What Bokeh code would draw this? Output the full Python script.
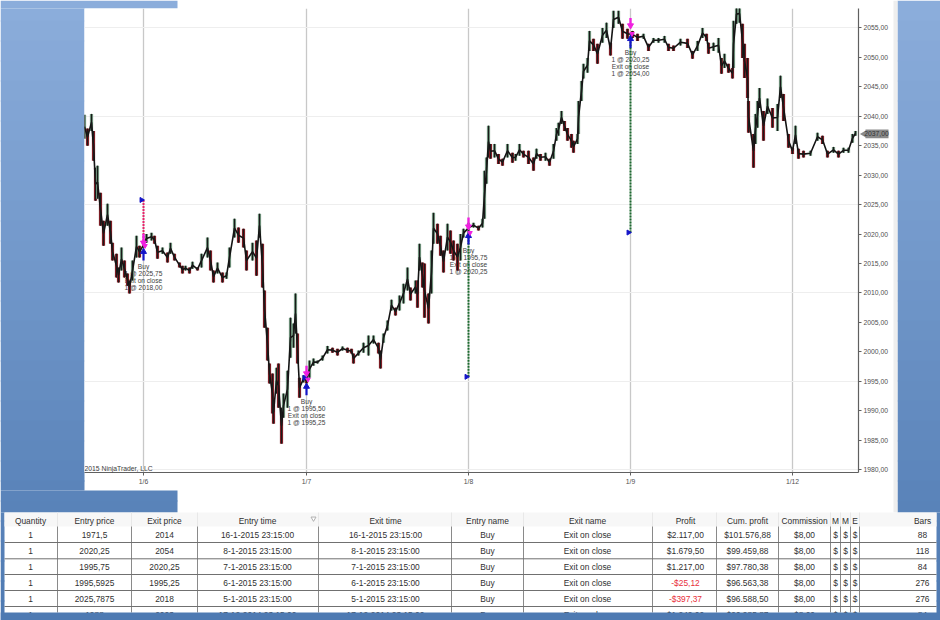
from bokeh.plotting import figure
from bokeh.models import Range1d, FixedTicker, Label, ColumnDataSource
from bokeh.core.properties import value
from bokeh.embed import file_html
from bokeh.resources import INLINE
import math

# ---------- chart data ----------
bar_x = [84,87,91,93,95,97,100,103,107,110,112,116,118,121,124,127,129,132,136,139,143,146,151,154,157,162,167,170,174,179,182,185,189,192,197,201,207,210,213,217,222,226,229,234,238,243,246,252,256,259,262,264,267,269,272,273,276,278,281,283,287,290,293,295,297,299,303,306,309,313,317,322,327,332,337,342,347,351,353,358,363,368,373,378,380,383,387,391,395,399,403,407,410,415,417,419,422,424,428,431,433,437,440,443,447,450,453,457,460,463,468,473,478,482,484,486,488,490,494,498,502,507,512,515,519,523,528,533,536,540,545,549,553,556,558,561,564,567,571,573,577,578,581,583,587,589,593,597,602,606,610,613,618,622,627,632,637,643,648,653,658,664,668,673,680,687,692,697,702,706,708,713,718,721,724,728,732,733,736,739,742,744,747,748,753,755,757,759,763,767,772,777,780,783,788,792,795,798,803,810,817,822,827,833,838,843,848,852,855]
bar_slot = [v - 84 for v in bar_x]
bar_high = [2040.25,2037.9,2040.4,2037.5,2031.25,2031.6,2027,2022.25,2025.15,2022.25,2018.5,2016.65,2014.3,2017.7,2015.5,2013.3,2012.1,2015.5,2019.7,2018,2018.5,2020,2020.2,2019.7,2018,2017.7,2016.85,2018.5,2016.65,2015.15,2014.6,2014.6,2014.3,2015.3,2014.3,2016.65,2019.4,2017.2,2013.8,2015.15,2013.45,2013.45,2017.7,2022.6,2021.1,2020.9,2017.2,2018.5,2018.9,2023.45,2018.35,2010.4,2004.1,1998,1996.3,1991.7,1997.3,1998,1990.5,1992.9,1996.8,2005.8,2004.8,2009.9,2003.1,1995.6,1996,1995.6,1998.5,1998.85,1998.5,1999.35,2001,2000.7,2000.5,2000.9,2000.7,2000.5,1999.7,2000.2,2001.55,2002.75,2002.75,2001.55,2000.2,2003.1,2005.3,2008.85,2007.5,2009.55,2011.55,2014.3,2010.9,2012.1,2012.1,2018.35,2015.15,2015,2009.9,2017.2,2023.6,2021.75,2019.7,2017.2,2021.75,2020.6,2018.9,2018.35,2020,2020.9,2021.9,2021.9,2021.4,2022.6,2030.75,2033,2038.4,2035.3,2035.3,2033.6,2032.8,2035.3,2033.8,2033.6,2035.3,2034.15,2034.15,2033,2034.5,2033.6,2033.8,2032.8,2035.3,2038,2038.9,2040.9,2039.2,2038,2037,2035.85,2037,2042.6,2046,2048.9,2049.9,2054.5,2053.15,2052.3,2055,2055.9,2052.5,2057.9,2057.9,2055.7,2054.85,2054.5,2054,2054,2052.3,2053.3,2053.3,2053.65,2052.3,2052,2053.15,2053.15,2051.1,2052.8,2055,2054,2052.5,2052.5,2053.3,2049.9,2050.6,2048.9,2048.2,2056.2,2059,2059,2055.7,2052.3,2049.9,2042.6,2037,2040.4,2042.6,2044.8,2040.9,2043,2041.4,2042.1,2046.9,2043.8,2037,2034.65,2038.4,2034.5,2034.15,2034.15,2037.2,2036.7,2034.15,2034.8,2034.15,2034.65,2034.65,2037,2037.5]
bar_low = [2036.2,2035,2037.5,2032.45,2025.65,2026,2021.4,2018,2021.4,2018.35,2015.5,2012.6,2011.75,2013.8,2012.6,2011.2,2009.9,2012.1,2016,2016,2017.7,2018.5,2018.9,2018.35,2015.8,2016.65,2015.15,2016.65,2015.5,2014.3,2013.3,2013.8,2013.3,2014.1,2013.8,2014.3,2016,2013.8,2011.75,2013.3,2011.75,2012.4,2014.3,2019.4,2018.5,2017.7,2013.8,2015.5,2012.9,2019.4,2010.9,2004.1,1998.5,1994.6,1989.5,1987.8,1992.9,1990.5,1984.4,1988.8,1990.5,1999,2000.7,2003.1,1998,1992.2,1994.8,1994.6,1995.6,1997.65,1998,1998.5,1999.7,1999.85,1999.35,2000.2,1999.85,1999.7,1998,1999.35,1999.85,1999.35,2001.4,1999.7,1997.15,2001.55,2003.6,2007,2006.15,2007,2008.2,2010.4,2008.7,2009.9,2007.5,2013.8,2010.9,2005.8,2004.8,2009.9,2018.35,2018.35,2016.3,2013.45,2017.2,2016.65,2015.5,2013.8,2015.5,2019.4,2020.2,2021.1,2020.6,2021.1,2022.6,2028.55,2033,2032.8,2033,2031.9,2031.6,2033,2032.1,2032.45,2033.3,2033,2031.9,2030.75,2032.8,2032.45,2032.45,2031.6,2032.8,2035.85,2036.7,2038.7,2037.5,2035.85,2034.65,2033.8,2035.3,2037,2042.6,2046.4,2047.4,2051.1,2051.1,2048.9,2052.5,2053.3,2050.3,2055,2055.7,2053.15,2053.15,2053.3,2052.8,2053.15,2051.1,2052.5,2052.5,2052.5,2051.1,2051.1,2052,2051.6,2049.75,2051.1,2053.3,2052.8,2050.6,2051.1,2050.8,2047.2,2048.2,2047.4,2046.4,2048.2,2055.7,2055.9,2049.9,2046.5,2043.1,2037.2,2031.25,2035.3,2038.05,2041.4,2035.85,2040.4,2038.05,2037.5,2043.1,2039.2,2034.65,2033.6,2035.3,2032.8,2033,2033.3,2035.85,2035.3,2033,2033.8,2033,2033.8,2033.8,2035.5,2036.7]

price_ticks = list(range(1980, 2060, 5))
grid_ticks = [1980, 1995, 2010, 2025, 2040, 2055]
day_slots = [59, 222, 384, 546, 708]
day_labels = ["1/6", "1/7", "1/8", "1/9", "1/12"]
last_price = 2037.0

trade_slot = [59, 222, 384, 546]
entry_price = [2025.7875, 1995.5925, 1995.75, 2020.25]
exit_price = [2018.0, 1995.25, 2020.25, 2054.0]
entry_text = ["2025,75", "1995,50", "1995,75", "2020,25"]
exit_text = ["2018,00", "1995,25", "2020,25", "2054,00"]
buy_top = [2017.0, 1994.1, 2019.7, 2053.15]
buy_tail = [2015.5, 1992.6, 2018.2, 2051.6]
exit_head = [2018.5, 1996.3, 2021.25, 2055.4]
exit_tail = [2020.0, 1997.65, 2022.8, 2056.7]
exit_dot = [2018.0, 1995.3, 2020.2, 2054.0]
label_price = [2014.5, 1991.6, 2017.2, 2050.8]

# ---------- table data ----------
headers = ["Quantity", "Entry price", "Exit price", "Entry time", "Exit time", "Entry name", "Exit name", "Profit", "Cum. profit", "Commission", "M", "M", "E", "Bars"]
col_quantity = ["1", "1", "1", "1", "1", "1"]
col_entry = ["1971,5", "2020,25", "1995,75", "1995,5925", "2025,7875", "1988"]
col_exit = ["2014", "2054", "2020,25", "1995,25", "2018", "2003"]
col_entry_time = ["16-1-2015 23:15:00", "8-1-2015 23:15:00", "7-1-2015 23:15:00", "6-1-2015 23:15:00", "5-1-2015 23:15:00", "17-12-2014 23:15:00"]
col_exit_time = ["16-1-2015 23:15:00", "8-1-2015 23:15:00", "7-1-2015 23:15:00", "6-1-2015 23:15:00", "5-1-2015 23:15:00", "17-12-2014 23:15:00"]
col_entry_name = ["Buy"] * 6
col_exit_name = ["Exit on close"] * 6
col_profit = ["$2.117,00", "$1.679,50", "$1.217,00", "-$25,12", "-$397,37", "$1.242,00"]
col_cum = ["$101.576,88", "$99.459,88", "$97.780,38", "$96.563,38", "$96.588,50", "$96.985,87"]
col_comm = ["$8,00"] * 6
col_m1 = ["$"] * 6
col_m2 = ["$"] * 6
col_e = ["$"] * 6
col_bars = ["88", "118", "84", "276", "276", "84"]
table_cols = [col_quantity, col_entry, col_exit, col_entry_time, col_exit_time, col_entry_name, col_exit_name,
              col_profit, col_cum, col_comm, col_m1, col_m2, col_e, col_bars]

# table layout, in page pixels
col_center = [30, 94, 164, 257, 385, 487, 587, 685, 747, 804, 835, 845, 854.5, 922]
col_seps = [57, 131, 197, 318, 451, 523, 652, 716, 778, 830, 840, 850, 859]
row_center = [534.7, 550.7, 566.5, 582.3, 598, 614]
row_lines = [542, 558.3, 574, 590, 606]

FONT = "Liberation Sans"
TOP_BLUE = (140, 174, 220)
BOT_BLUE = (78, 122, 178)

def blue(y):
    t = y / 620
    return "#%02x%02x%02x" % tuple(int(a + (b - a) * t) for a, b in zip(TOP_BLUE, BOT_BLUE))

# ---------- page: backdrop and table, one pixel per unit ----------
b = figure(width=940, height=620, output_backend="svg", toolbar_location=None,
           x_range=Range1d(0, 940), y_range=Range1d(620, 0), min_border=0,
           outline_line_color=None, background_fill_color="white", border_fill_color="white",
           styles={"position": "absolute", "left": "0px", "top": "0px"})
b.axis.visible = False
b.grid.visible = False
b.extra_y_ranges = {"price": Range1d(1954.36, 2059.66)}

def box(l, r, t, bot, color):
    b.quad(left=[l], right=[r], top=[t], bottom=[bot], fill_color=color, line_color=None)

# bands overlap by a pixel so that no seam shows between them
for y in range(0, 620, 20):
    c = blue(y + 10)
    yb = y + 21
    if y < 8:
        box(0, 177, y, 8, c)
    if y < 490:
        box(0, 84, max(y, 8), min(yb, 490), c)
    if yb > 490 and y < 512:
        box(0, 177, max(y, 490), min(yb, 512), c)
    if y < 512:
        box(897, 940, y, min(yb, 512), c)
    if yb > 512:
        box(0, 4, max(y, 512), yb, c)
        box(936, 940, max(y, 512), yb, c)
box(893, 897, 0, 512, "#eeeeee")

box(4, 936, 512, 526, "#f7f7f7")
for cx in col_seps:
    b.segment([cx], [512], [cx], [526], line_color="#e8e8e8", line_width=1)
    b.segment([cx], [526], [cx], [612], line_color="#8a8a8a", line_width=1)
for ry in row_lines:
    b.segment([4], [ry], [936], [ry], line_color="#707070", line_width=1)
b.scatter([313], [518], marker="inverted_triangle", size=5, fill_color="white", line_color="#b0b0b0")

xs, ys, ts, cs = [], [], [], []
for cx, h, col in zip(col_center, headers, table_cols):
    xs.append(cx); ys.append(520); ts.append(h); cs.append("#303030")
    for ry, txt in zip(row_center, col):
        xs.append(cx); ys.append(ry); ts.append(txt)
        cs.append("#e8303a" if txt.startswith("-$") else "#303030")
b.text(x="x", y="y", text="t", text_color="c", source=ColumnDataSource(dict(x=xs, y=ys, t=ts, c=cs)),
       text_font=value(FONT), text_font_size=value("8.4px"), text_align="center", text_baseline="middle")
box(0, 940, 612, 620, blue(616))

# last-price tag, on the price scale
b.quad(left=[865], right=[888], top=[last_price + 0.75], bottom=[last_price - 0.75], y_range_name="price",
       fill_color="#8a8a8a", line_color=None)
b.scatter([864], [last_price], y_range_name="price", marker="triangle", angle=math.pi / 2, size=8,
          fill_color="#8a8a8a", line_color=None)
b.text(x=[876], y=[last_price], text=[f"{int(last_price)},00"], y_range_name="price",
       text_font=value(FONT), text_font_size=value("6.8px"), text_color="#333333",
       text_align="center", text_baseline="middle")

# ---------- chart ----------
p = figure(width=813, height=482, output_backend="svg", toolbar_location=None,
           x_range=Range1d(0, 774), y_range=Range1d(1979.5, 2058.3),
           min_border_left=0, min_border_right=39, min_border_top=0, min_border_bottom=18,
           y_axis_location="right", background_fill_color="white", border_fill_color=None,
           outline_line_color=None,
           styles={"position": "absolute", "left": "84px", "top": "8px"})

p.xaxis.ticker = FixedTicker(ticks=day_slots)
p.xaxis.major_label_overrides = dict(zip(day_slots, day_labels))
p.yaxis.ticker = FixedTicker(ticks=price_ticks)
p.yaxis.major_label_overrides = {t: f"{t},00" for t in price_ticks}
for ax in (p.xaxis[0], p.yaxis[0]):
    ax.axis_line_color = "#606060"
    ax.axis_line_width = 1.2
    ax.major_tick_line_color = "#606060"
    ax.major_tick_out = 3
    ax.major_tick_in = 0
    ax.minor_tick_line_color = None
    ax.major_label_text_font = FONT
    ax.major_label_text_font_size = "6.8px"
    ax.major_label_text_color = "#505050"
    ax.major_label_standoff = 2

p.xgrid.ticker = FixedTicker(ticks=day_slots)
p.xgrid.grid_line_color = "#c8c8c8"
p.xgrid.grid_line_width = 1.3
p.ygrid.ticker = FixedTicker(ticks=grid_ticks)
p.ygrid.grid_line_color = "#eeeeee"
p.ygrid.grid_line_width = 1

# trade labels (under the price bars)
lx, ly, lo, lt = [], [], [], []
for s, pr, e, x in zip(trade_slot, label_price, entry_text, exit_text):
    for k, txt in enumerate(["Buy", f"1 @ {e}", "Exit on close", f"1 @ {x}"]):
        lx.append(s); ly.append(pr); lo.append(7 * k); lt.append(txt)
p.text(x="x", y="y", text="t", y_offset="o", source=ColumnDataSource(dict(x=lx, y=ly, o=lo, t=lt)),
       text_font=value(FONT), text_font_size=value("6.6px"), text_color="#404040",
       text_align="center", text_baseline="middle")

# price bars
mid = [(h + l) / 2 for h, l in zip(bar_high, bar_low)]
colors = ["#7b1c24" if i and mid[i] < mid[i - 1] else "#6a8c76" for i in range(len(mid))]
p.segment(bar_slot, bar_low, bar_slot, bar_high, line_color=colors, line_width=3.2)
p.line(bar_slot, mid, line_color="#141414", line_width=1.6)
p.segment(bar_slot, bar_low, bar_slot, bar_high, line_color="#1a1a1a", line_width=1)

# trades
tcol = ["#e8246a" if x < e else "#1b6b2e" for e, x in zip(entry_price, exit_price)]
p.segment(trade_slot, entry_price, trade_slot, exit_price, line_color=tcol, line_width=2, line_dash="2 1")
p.scatter([s - 2 for s in trade_slot], entry_price, marker="triangle", angle=-math.pi / 2, size=5,
          fill_color="#1414c8", line_color="#1414c8")
p.segment(trade_slot, buy_top, trade_slot, buy_tail, line_color="#1414c8", line_width=2.2)
p.scatter(trade_slot, buy_top, marker="triangle", size=6, fill_color="#1414c8", line_color="#1414c8")
p.segment(trade_slot, exit_tail, trade_slot, exit_head, line_color="#f020e0", line_width=2.4)
p.scatter(trade_slot, exit_head, marker="inverted_triangle", size=6, fill_color="#f020e0", line_color="#f020e0")
p.scatter([s + 1.5 for s in trade_slot], exit_dot, marker="inverted_triangle", size=4.5, fill_color="#f020e0", line_color="#f020e0")

p.add_layout(Label(x=0, y=1980.2, text="2015 NinjaTrader, LLC", text_font=FONT, text_font_size="6.8px",
                   text_color="#404040", text_baseline="middle"))

open("out.html", "w").write(file_html([b, p], INLINE))
